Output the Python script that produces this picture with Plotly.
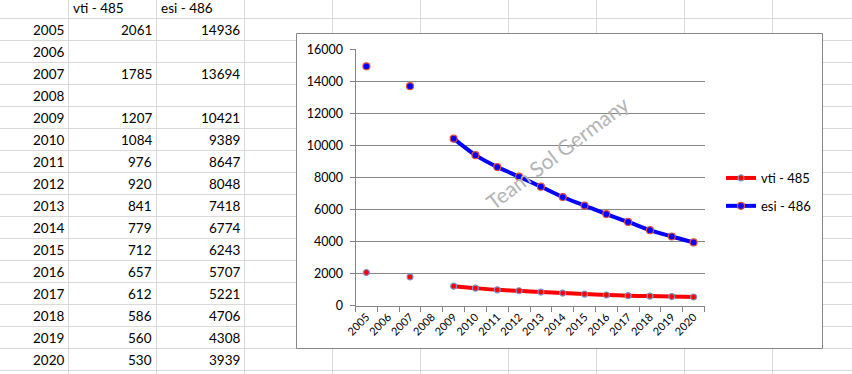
import plotly.graph_objects as go

years = ["2005", "2006", "2007", "2008", "2009", "2010", "2011", "2012",
         "2013", "2014", "2015", "2016", "2017", "2018", "2019", "2020"]
vti = [2061, None, 1785, None, 1207, 1084, 976, 920, 841, 779, 712, 657, 612, 586, 560, 530]
esi = [14936, None, 13694, None, 10421, 9389, 8647, 8048, 7418, 6774, 6243, 5707, 5221, 4706, 4308, 3939]
headers = ["vti - 485", "esi - 486"]
watermark = "Team Sol Germany"

W, H = 852, 374
FONT = "Lato, 'Liberation Sans', sans-serif"


def px(x):
    return x / W


def py(y):
    return 1 - y / H


fig = go.Figure()

fig.add_trace(go.Scatter(
    x=years, y=vti, name=headers[0], mode="lines+markers",
    connectgaps=False, line=dict(color="#ff0000", width=4, shape="spline", smoothing=0.8),
    marker=dict(size=6, color="#ff0000", line=dict(color="#7d8fc4", width=1.2)),
    legendgroup="a",
))
fig.add_trace(go.Scatter(
    x=years, y=esi, name=headers[1], mode="lines+markers",
    connectgaps=False, line=dict(color="#0000ff", width=4, shape="spline", smoothing=0.8),
    marker=dict(size=7, color="#0000ff", line=dict(color="#e0503a", width=1.2)),
    legendgroup="b",
))

shapes = []
# spreadsheet gridlines
grid_col = "#d9d9d9"
for k in range(17):
    yy = 18.5 + 22 * k
    shapes.append(dict(type="line", xref="paper", yref="paper", x0=0, x1=1,
                       y0=py(yy), y1=py(yy), line=dict(color=grid_col, width=1), layer="below"))
for k in range(10):
    xx = 68.5 + 88 * k
    shapes.append(dict(type="line", xref="paper", yref="paper", x0=px(xx), x1=px(xx),
                       y0=0, y1=1, line=dict(color=grid_col, width=1), layer="below"))
# chart area
shapes.append(dict(type="rect", xref="paper", yref="paper", x0=px(296.5), x1=px(822.5),
                   y0=py(348.5), y1=py(33.5), fillcolor="white",
                   line=dict(color="#888888", width=1), layer="below"))

annotations = []
cell_font = dict(family=FONT, size=13.5, color="black")
annotations.append(dict(text=headers[0], x=px(71), y=py(8), xref="paper", yref="paper",
                        xanchor="left", yanchor="middle", showarrow=False, font=cell_font))
annotations.append(dict(text=headers[1], x=px(159), y=py(8), xref="paper", yref="paper",
                        xanchor="left", yanchor="middle", showarrow=False, font=cell_font))
for i, yr in enumerate(years):
    yc = py(30 + 22 * i)
    annotations.append(dict(text=yr, x=px(66), y=yc, xref="paper", yref="paper",
                            xanchor="right", yanchor="middle", showarrow=False, font=cell_font))
    if vti[i] is not None:
        annotations.append(dict(text=str(vti[i]), x=px(154), y=yc, xref="paper", yref="paper",
                                xanchor="right", yanchor="middle", showarrow=False, font=cell_font))
    if esi[i] is not None:
        annotations.append(dict(text=str(esi[i]), x=px(242), y=yc, xref="paper", yref="paper",
                                xanchor="right", yanchor="middle", showarrow=False, font=cell_font))

annotations.append(dict(text=watermark, x=px(557), y=py(152), xref="paper", yref="paper",
                        xanchor="center", yanchor="middle", showarrow=False, textangle=-37,
                        font=dict(family=FONT, size=21, color="#b4b4b4")))

fig.update_layout(
    width=W, height=H,
    margin=dict(l=0, r=0, t=0, b=0, pad=0, autoexpand=False),
    paper_bgcolor="white", plot_bgcolor="rgba(0,0,0,0)",
    font=dict(family=FONT, color="black"),
    shapes=shapes, annotations=annotations,
    showlegend=True,
    legend=dict(x=px(721), y=py(163), xanchor="left", yanchor="top",
                font=dict(family=FONT, size=13, color="black"),
                traceorder="grouped", tracegroupgap=8, bgcolor="rgba(0,0,0,0)"),
    xaxis=dict(domain=[px(355.5), px(704.5)], type="category", range=[-0.5, 15.5],
               tickson="boundaries", ticks="outside", ticklen=5, tickcolor="#868686",
               showline=True, linecolor="#868686", linewidth=1, showgrid=False,
               automargin=False,
               tickangle=-45, tickfont=dict(family=FONT, size=11, color="black")),
    yaxis=dict(domain=[py(305.5), py(49.3)], range=[0, 16000], dtick=2000,
               tickformat="d", automargin=False,
               ticks="outside", ticklen=5, tickcolor="#868686",
               showline=True, linecolor="#868686", linewidth=1,
               showgrid=True, gridcolor="#868686", gridwidth=1, zeroline=False,
               ticklabelstandoff=4,
               tickfont=dict(family=FONT, size=12.5, color="black")),
)

fig.write_html("out.html", config={"displayModeBar": False},
               post_script="document.body.style.margin='0';document.body.style.overflow='hidden';")
